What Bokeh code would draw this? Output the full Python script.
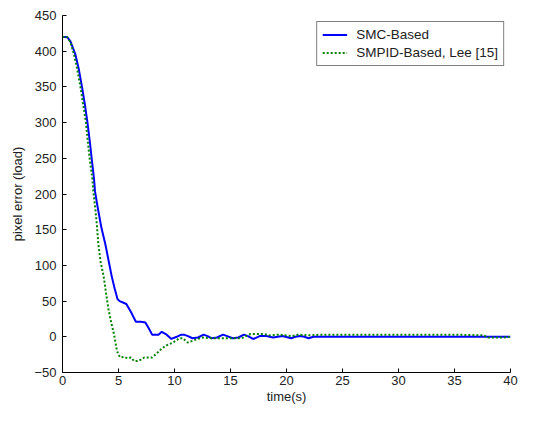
from bokeh.plotting import figure
from bokeh.models import FixedTicker, Range1d, Legend, LegendItem
from bokeh.embed import file_html
from bokeh.resources import INLINE

# ---- data ----
smc_t = [0, 0.4, 0.7, 1.14, 1.45, 1.74, 2.0, 2.23, 2.45, 2.61, 2.81, 2.9, 3.1, 3.47, 3.82,
         4.1, 4.39, 4.65, 4.91, 5.1, 5.4, 5.7, 6.1, 6.3, 6.55, 7.0, 7.4, 7.7, 8.0, 8.57,
         8.86, 9.3, 9.72, 10.2, 10.6, 10.85, 11.2, 11.6, 12.1, 12.6, 12.95, 13.3, 13.8,
         14.33, 14.7, 15.2, 15.7, 16.2, 16.55, 16.9, 17.07, 17.6, 18.2, 18.8, 19.65, 20.4,
         20.8, 21.2, 21.6, 21.97, 22.4, 25, 30, 35, 40]
smc_v = [420, 420, 414, 396, 375, 350, 325, 300, 272, 249, 222, 204, 185, 153, 130,
         108, 85, 68, 53, 50, 48, 46, 35, 29, 21, 21, 20, 12, 3, 3,
         7, 3, -3, 0, 3, 3, 1, -2, -1, 3, 1, -2, -1,
         3, 1, -2, -1, 3, 1, -2, -3, 1, 1, -1, 1, -2,
         0, 1, 0, -2, 0, 0, 0, 0, 0]

smpid_t = [0, 0.4, 0.7, 1.02, 1.3, 1.6, 1.85, 2.09, 2.25, 2.43, 2.66, 2.75, 2.95, 3.05,
           3.2, 3.4, 3.67, 3.9, 4.1, 4.35, 4.62, 4.8, 4.97, 5.2, 5.5, 5.8, 6.1, 6.4, 6.7,
           7.0, 7.3, 7.65, 8.0, 8.43, 8.9, 9.29, 9.87, 10.44, 10.73, 11.17, 11.9, 12.46,
           13.3, 14.5, 16.0, 16.2, 16.8, 17.9, 18.5, 19.3, 20.0, 20.5, 21.0, 22.0, 23.0,
           25, 27, 30, 33, 35, 37.6, 38.0, 38.8, 39.4, 40]
smpid_v = [420, 420, 413, 396, 376, 350, 325, 300, 275, 249, 222, 204, 176, 160,
           130, 105, 85, 60, 39, 20, 2, -15, -25, -29, -28, -30, -29, -34, -34,
           -32, -29, -29, -29, -23, -16, -12, -8, -2, -2, -8, -4, -1,
           -2, -2, -2, -0.5, 4, 4, 2, 3, 2, 1, 3, 2, 3,
           3, 3, 3, 3, 3, 2, -1, -1, -1, 0]

x_ticks = [0, 5, 10, 15, 20, 25, 30, 35, 40]
y_ticks = [-50, 0, 50, 100, 150, 200, 250, 300, 350, 400, 450]

series_names = ["SMC-Based", "SMPID-Based, Lee [15]"]
x_label = "time(s)"
y_label = "pixel error (load)"

FONT = "Liberation Sans"

p = figure(width=518, height=406, output_backend="svg", toolbar_location=None,
           x_range=Range1d(0, 40), y_range=Range1d(-50, 450))
p.min_border_left = 62
p.min_border_right = 8
p.min_border_top = 15
p.min_border_bottom = 32
p.outline_line_color = None
p.background_fill_color = "white"
p.border_fill_color = "white"
p.xgrid.visible = False
p.ygrid.visible = False

r1 = p.line(smc_t, smc_v, line_color="#0000FF", line_width=2)
r2 = p.line(smpid_t, smpid_v, line_color="#008000", line_width=2, line_dash="2 2")

for ax, ticks in ((p.xaxis[0], x_ticks), (p.yaxis[0], y_ticks)):
    ax.ticker = FixedTicker(ticks=ticks)
    ax.minor_tick_line_color = None
    ax.major_tick_in = 4
    ax.major_tick_out = 0
    ax.axis_line_color = "black"
    ax.major_tick_line_color = "black"
    ax.major_label_text_font = FONT
    ax.major_label_text_font_size = "13px"
    ax.major_label_text_color = "#222222"
    ax.axis_label_text_font = FONT
    ax.axis_label_text_font_size = "13px"
    ax.axis_label_text_font_style = "normal"
    ax.axis_label_text_color = "#222222"

p.xaxis.axis_label = x_label
p.yaxis.axis_label = y_label
p.xaxis.major_label_standoff = 3
p.xaxis.axis_label_standoff = 1
p.yaxis.major_label_standoff = 6
p.yaxis.axis_label_standoff = 6

legend = Legend(items=[LegendItem(label=series_names[0], renderers=[r1]),
                       LegendItem(label=series_names[1], renderers=[r2])],
                location="top_right")
legend.margin = 6
legend.padding = 5
legend.spacing = 3
legend.glyph_width = 25
legend.glyph_height = 15
legend.label_height = 15
legend.label_standoff = 9
legend.label_text_font = FONT
legend.label_text_font_size = "13.5px"
legend.label_text_color = "#222222"
legend.border_line_color = "black"
legend.border_line_width = 1
legend.background_fill_color = "white"
legend.background_fill_alpha = 1
p.add_layout(legend)

open("out.html", "w").write(file_html(p, INLINE))
